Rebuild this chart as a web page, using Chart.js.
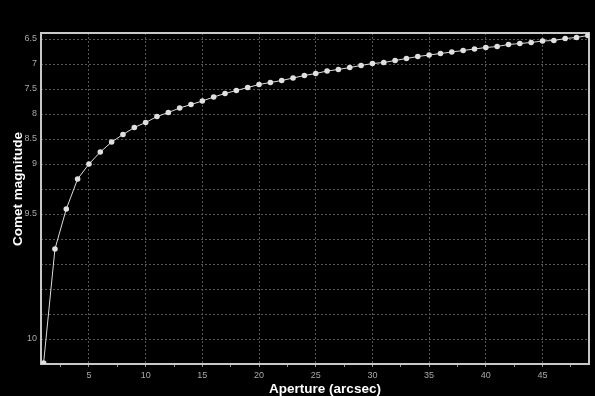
<!DOCTYPE html>
<html lang="en">
<head>
  <meta charset="UTF-8">
  <title>Comet magnitude vs aperture</title>
  <script src="https://cdn.jsdelivr.net/npm/chart.js"></script>
  <style>
    html, body { margin: 0; padding: 0; background: #000; }
    #wrap { width: 595px; height: 396px; position: relative; }
  </style>
</head>
<body>
  <div id="wrap"><canvas id="magChart"></canvas></div>
  <script>
    // aperture in arcsec
    var apertures = [1, 2, 3, 4, 5, 6, 7, 8, 9, 10, 11, 12, 13, 14, 15, 16, 17, 18, 19, 20,
      21, 22, 23, 24, 25, 26, 27, 28, 29, 30, 31, 32, 33, 34, 35, 36, 37, 38, 39, 40,
      41, 42, 43, 44, 45, 46, 47, 48, 49];
    // magnitudes, read in the axis's own (evenly spaced) units
    var magnitudes = [12.98, 10.70, 9.90, 9.30, 9.00, 8.76, 8.56, 8.41, 8.27, 8.17,
      8.05, 7.97, 7.88, 7.81, 7.74, 7.66, 7.59, 7.53, 7.47, 7.41,
      7.37, 7.33, 7.28, 7.23, 7.19, 7.14, 7.11, 7.07, 7.03, 6.99,
      6.97, 6.93, 6.89, 6.85, 6.82, 6.79, 6.76, 6.73, 6.70, 6.67,
      6.65, 6.61, 6.59, 6.57, 6.54, 6.53, 6.49, 6.47, 6.43];
    // y grid positions and the labels printed on them
    var yTicks = [6.5, 7, 7.5, 8, 8.5, 9, 9.5, 10, 10.5, 11, 11.5, 12, 12.5];
    var yTickLabels = ['6.5', '7', '7.5', '8', '8.5', '9', '', '9.5', '', '', '', '', '10'];
    var xTicks = [2.5, 5, 7.5, 10, 12.5, 15, 17.5, 20, 22.5, 25, 27.5, 30, 32.5, 35, 37.5, 40, 42.5, 45, 47.5];

    var isMajor = function (v) { return v % 5 === 0; };

    // frame round the plot + axis titles
    var framePlugin = {
      id: 'frame',
      beforeDatasetsDraw: function (chart) {
        var a = chart.chartArea, ctx = chart.ctx;
        ctx.save();
        ctx.strokeStyle = '#c8c8c8';
        ctx.lineWidth = 2;
        ctx.strokeRect(a.left, a.top, a.right - a.left, a.bottom - a.top);
        ctx.restore();
      },
      afterDraw: function (chart) {
        var ctx = chart.ctx;
        ctx.save();
        ctx.fillStyle = '#ffffff';
        ctx.font = 'bold 13.5px "Liberation Sans", Arial, sans-serif';
        ctx.textAlign = 'center';
        ctx.textBaseline = 'alphabetic';
        ctx.fillText('Aperture (arcsec)', 325, 393);
        ctx.translate(22, 189);
        ctx.rotate(-Math.PI / 2);
        ctx.fillText('Comet magnitude', 0, 0);
        ctx.restore();
      }
    };

    var ctx = document.getElementById('magChart').getContext('2d');
    var magChart = new Chart(ctx, {
      type: 'line',
      data: {
        datasets: [{
          data: apertures.map(function (x, i) { return { x: x, y: magnitudes[i] }; }),
          borderColor: '#dcdcdc',
          borderWidth: 1,
          pointStyle: 'circle',
          pointRadius: 2.8,
          pointBackgroundColor: '#e0e0e0',
          pointBorderColor: '#e0e0e0',
          pointBorderWidth: 0,
          tension: 0
        }]
      },
      options: {
        responsive: true,
        maintainAspectRatio: false,
        animation: false,
        layout: { padding: { top: 33, right: 6, left: 0, bottom: 0 } },
        plugins: { legend: { display: false }, tooltip: { enabled: false } },
        scales: {
          x: {
            type: 'linear',
            min: 0.77,
            max: 49.1,
            afterBuildTicks: function (s) { s.ticks = xTicks.map(function (v) { return { value: v }; }); },
            afterFit: function (s) { s.height = 32; },
            grid: {
              color: function (c) { return c.tick && isMajor(c.tick.value) ? '#555555' : 'rgba(0,0,0,0)'; },
              tickColor: '#9a9a9a',
              tickLength: 3,
              lineWidth: 1
            },
            border: { display: false, dash: [2, 2] },
            ticks: {
              autoSkip: false,
              maxRotation: 0,
              padding: 3,
              color: '#a8a8a8',
              font: { family: '"Liberation Sans", Arial, sans-serif', size: 9 },
              callback: function (v) { return isMajor(v) ? String(v) : ''; }
            }
          },
          y: {
            type: 'linear',
            reverse: true,
            min: 6.38,
            max: 13.0,
            afterBuildTicks: function (s) { s.ticks = yTicks.map(function (v) { return { value: v }; }); },
            afterFit: function (s) { s.width = 41; },
            grid: { color: '#555555', lineWidth: 1, drawTicks: false },
            border: { display: false, dash: [2, 2] },
            ticks: {
              autoSkip: false,
              padding: 4,
              color: '#a8a8a8',
              font: { family: '"Liberation Sans", Arial, sans-serif', size: 9 },
              callback: function (v, i) { return yTickLabels[i]; }
            }
          }
        }
      },
      plugins: [framePlugin]
    });
  </script>
</body>
</html>
